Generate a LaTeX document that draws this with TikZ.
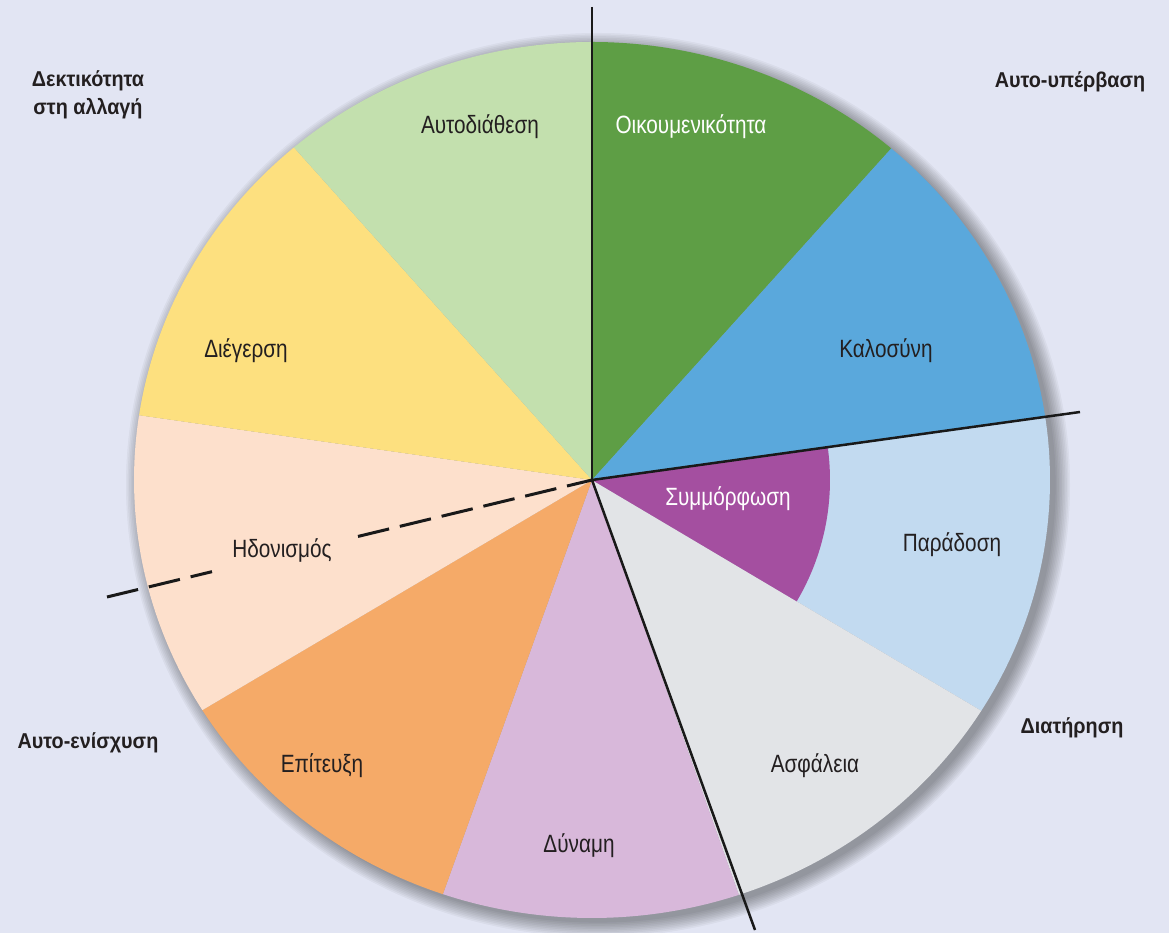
\documentclass[tikz,border=0pt]{standalone}
\usepackage{fontspec}
\usetikzlibrary{calc}
\newfontfamily\lab[FakeStretch=0.83]{Liberation Sans}
\newfontfamily\labb[FakeStretch=0.92]{Liberation Sans Bold}
\definecolor{bg}{HTML}{E2E5F3}
\definecolor{cAuto}{HTML}{C3E0AE}
\definecolor{cOik}{HTML}{5E9E45}
\definecolor{cKal}{HTML}{5AA8DC}
\definecolor{cPar}{HTML}{C2DAF0}
\definecolor{cSym}{HTML}{A44FA0}
\definecolor{cAsf}{HTML}{E2E4E7}
\definecolor{cDyn}{HTML}{D8B8DA}
\definecolor{cEpi}{HTML}{F5AA68}
\definecolor{cHdo}{HTML}{FDE0CC}
\definecolor{cDie}{HTML}{FDE07F}
\definecolor{txt}{HTML}{231F20}
\tikzset{
  inlabel/.style={font=\lab\fontsize{25}{28}\selectfont, text=txt, inner sep=0pt, text height=0.72em, text depth=0.2em},
  outlabel/.style={font=\labb\fontsize{21.5}{28}\selectfont, text=txt, align=center, inner sep=0pt},
  divider/.style={draw=black!90, line width=2.5pt},
  dashdiv/.style={draw=black!90, line width=3pt, dash pattern=on 32pt off 11pt},
}
\newcommand{\sector}[3]{%
  \fill[#1] (C) -- ++({458*cos(#2)},{438*sin(#2)}) arc[start angle=#2, end angle=#3, x radius=458, y radius=438] -- cycle;}
\begin{document}
\begin{tikzpicture}[x=1pt,y=1pt]
\useasboundingbox (0,0) rectangle (1169,933);
\fill[bg] (0,0) rectangle (1169,933);
\coordinate (C) at (592,453);
% soft shadow
\foreach \i in {1,...,10}{
  \fill[black, opacity=0.04] ($(C)+(6,-5)$) ellipse[x radius={456+\i*1.6}, y radius={436+\i*1.6}];
}
\sector{cOik}{90}{49.2}
\sector{cKal}{49.2}{8.2}
\sector{cPar}{8.2}{-31.8}
\sector{cAsf}{-31.8}{-71.3}
\sector{cDyn}{-71.3}{-109}
\sector{cEpi}{-109}{-148.3}
\sector{cHdo}{-148.3}{-188.5}
\sector{cDie}{-188.5}{-229.4}
\sector{cAuto}{-229.4}{-270}
% conformity inner sector
\fill[cSym] (C) -- ++({238*cos(7.93)},{238*sin(7.93)}) arc[start angle=7.93, end angle=-30.66, radius=238] -- cycle;
% dividers
\coordinate (Dtop) at (592,926);
\coordinate (Dright) at (1080,521);
\coordinate (Dbottom) at (755,3);
\coordinate (Dleft) at (107,336);
\coordinate (Dgap1) at ($(Dleft)!0.2165!(C)$);
\coordinate (Dgap2) at ($(Dleft)!0.5175!(C)$);
\draw[dashdiv] (Dleft) -- (Dgap1);
\draw[dashdiv] (Dgap2) -- (C);
\draw[divider] (Dtop) -- (C);
\draw[divider] (C) -- (Dright);
\draw[divider] (C) -- (Dbottom);
% inner labels
\node[inlabel] (hdo) at (282,378) {Ηδονισμός};
\node[inlabel] (auto) at (480,802) {Αυτοδιάθεση};
\node[inlabel, text=white] (oik) at (691,802) {Οικουμενικότητα};
\node[inlabel] (kal) at (886,578) {Καλοσύνη};
\node[inlabel] (die) at (246,578) {Διέγερση};
\node[inlabel, text=white] (sym) at (728,430) {Συμμόρφωση};
\node[inlabel] (par) at (952,384) {Παράδοση};
\node[inlabel] (asf) at (815,163) {Ασφάλεια};
\node[inlabel] (epi) at (322,163) {Επίτευξη};
\node[inlabel] (dyn) at (579,83) {Δύναμη};
% outer labels
\node[outlabel] (dekt) at (88,838) {Δεκτικότητα\\στη αλλαγή};
\node[outlabel] (yperb) at (1070,851) {Αυτο-υπέρβαση};
\node[outlabel] (enis) at (88,190) {Αυτο-ενίσχυση};
\node[outlabel] (diat) at (1072,205) {Διατήρηση};
\end{tikzpicture}
\end{document}
